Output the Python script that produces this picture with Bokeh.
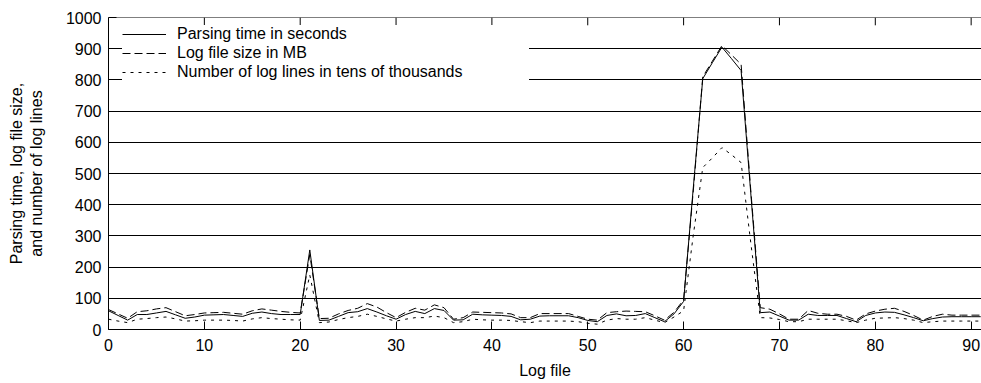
from bokeh.plotting import figure
from bokeh.models import Range1d, FixedTicker, Legend, Span
from bokeh.embed import file_html
from bokeh.resources import INLINE

log_file = list(range(92))

parse_seconds = [60, 45, 30, 48, 48, 53, 58, 47, 36, 40, 46, 47, 48, 45, 42, 52, 56, 51, 48, 48,
                 48, 255, 29, 30, 42, 54, 57, 67, 56, 44, 33, 48, 58, 51, 67, 61, 30, 31, 49, 47,
                 46, 45, 42, 31, 33, 43, 44, 44, 44, 38, 29, 25, 45, 50, 44, 45, 51, 38, 25, 50,
                 90, 450, 804, 855, 905, 868, 830, 440, 54, 56, 43, 30, 30, 49, 45, 45, 45, 35, 25, 45,
                 53, 56, 55, 47, 38, 28, 35, 40, 41, 41, 41, 41]

size_mb = [64, 50, 36, 57, 60, 66, 70, 57, 44, 48, 53, 54, 55, 52, 49, 60, 66, 62, 58, 55,
           53, 240, 35, 36, 50, 61, 68, 83, 72, 54, 38, 55, 68, 62, 79, 70, 33, 38, 56, 55,
           54, 53, 50, 38, 38, 51, 51, 51, 51, 42, 33, 30, 54, 57, 59, 58, 57, 44, 30, 55,
           95, 440, 810, 860, 910, 880, 850, 450, 70, 65, 50, 33, 33, 61, 52, 49, 49, 42, 30, 50,
           59, 65, 68, 58, 45, 30, 42, 49, 46, 46, 46, 46]

lines_10k = [33, 27, 22, 33, 35, 38, 40, 34, 27, 28, 30, 30, 30, 29, 27, 34, 38, 35, 33, 31,
             30, 175, 22, 24, 32, 38, 42, 49, 42, 34, 27, 33, 38, 38, 43, 38, 22, 25, 33, 31,
             30, 30, 29, 25, 22, 27, 27, 27, 27, 25, 20, 17, 30, 35, 33, 33, 38, 30, 22, 40,
             60, 300, 519, 550, 583, 560, 535, 280, 38, 37, 32, 25, 25, 33, 33, 33, 33, 28, 22, 30,
             36, 37, 38, 35, 30, 22, 25, 27, 27, 27, 27, 27]

x_ticks = [0, 10, 20, 30, 40, 50, 60, 70, 80, 90]
y_ticks = [0, 100, 200, 300, 400, 500, 600, 700, 800, 900, 1000]
y_top = 1000
top_tick_len = 25  # inward tick length at the top border, in y units (about 8 px)

FONT = "Liberation Sans"

p = figure(width=981, height=383, output_backend="svg", toolbar_location=None,
           x_range=Range1d(0, 91.08), y_range=Range1d(0, y_top),
           min_border_left=108, min_border_right=0, min_border_top=17, min_border_bottom=54)
p.outline_line_color = None
p.background_fill_color = "white"
p.border_fill_color = "white"

r1 = p.line(log_file, parse_seconds, line_color="black", line_width=1)
r2 = p.line(log_file, size_mb, line_color="black", line_width=1, line_dash="8 4")
r3 = p.line(log_file, lines_10k, line_color="black", line_width=1, line_dash="3 5")

for ax in (p.xaxis[0], p.yaxis[0]):
    ax.axis_line_color = "black"
    ax.major_tick_line_color = "black"
    ax.major_tick_in = 8
    ax.major_tick_out = 0
    ax.minor_tick_line_color = None
    ax.major_label_text_font = FONT
    ax.major_label_text_font_size = "16px"
    ax.major_label_text_color = "black"
    ax.axis_label_text_font = FONT
    ax.axis_label_text_font_size = "16px"
    ax.axis_label_text_font_style = "normal"
    ax.axis_label_text_color = "black"

p.xaxis[0].ticker = FixedTicker(ticks=x_ticks)
p.yaxis[0].ticker = FixedTicker(ticks=y_ticks)
p.xaxis[0].axis_label = "Log file"
p.xaxis[0].major_label_standoff = 9
p.xaxis[0].axis_label_standoff = 8
p.yaxis[0].axis_label = "Parsing time, log file size,\nand number of log lines"
p.yaxis[0].major_label_standoff = 7
p.yaxis[0].axis_label_standoff = 18

p.xgrid.grid_line_color = None
p.ygrid.ticker = FixedTicker(ticks=y_ticks)
p.ygrid.grid_line_color = "black"
p.ygrid.grid_line_width = 1

legend = Legend(items=[("Parsing time in seconds", [r1]),
                       ("Log file size in MB", [r2]),
                       ("Number of log lines in tens of thousands", [r3])],
                location=(14, 248), orientation="vertical")
legend.border_line_color = None
legend.background_fill_color = "white"
legend.background_fill_alpha = 1
legend.padding = 7
legend.margin = 0
legend.spacing = 1
legend.glyph_width = 44
legend.glyph_height = 18
legend.label_standoff = 11
legend.label_width = 352
legend.label_height = 18
legend.label_text_font = FONT
legend.label_text_font_size = "16px"
legend.label_text_color = "black"
p.add_layout(legend, "center")

# top border with inward mirror ticks (drawn after the legend box)
p.add_layout(Span(location=y_top, dimension="width", line_color="black", line_width=1))
p.segment(x0=x_ticks, y0=[y_top] * len(x_ticks), x1=x_ticks,
          y1=[y_top - top_tick_len] * len(x_ticks), line_color="black", line_width=1)

open("out.html", "w").write(file_html(p, INLINE))
